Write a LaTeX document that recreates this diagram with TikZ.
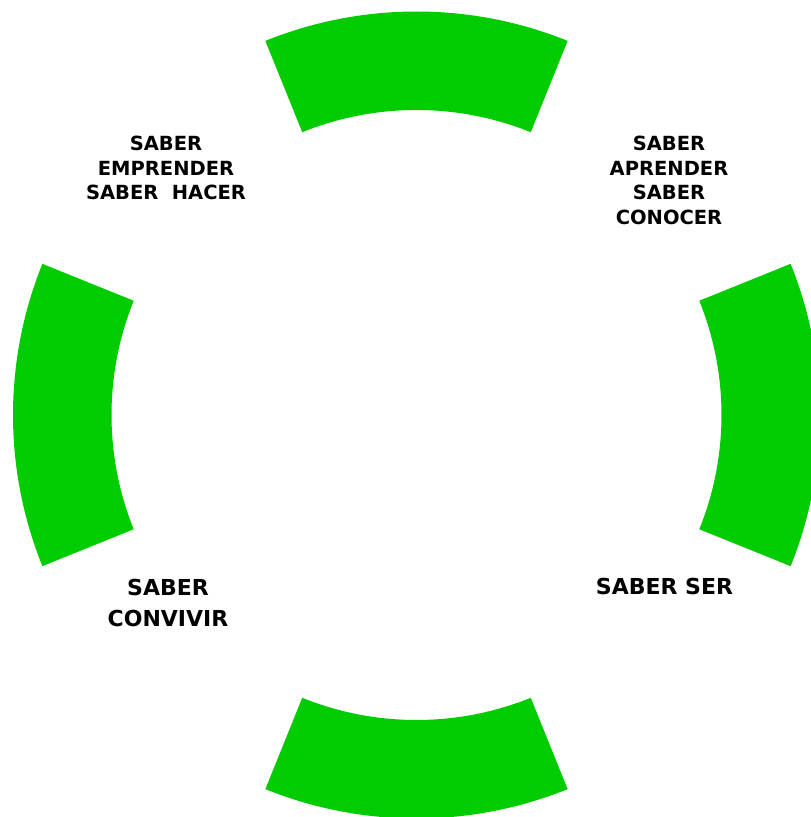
\documentclass[tikz,border=0pt]{standalone}
\usepackage{fontspec}
\setmainfont{DejaVu Sans}
\usetikzlibrary{calc}
\definecolor{ringgreen}{RGB}{0,204,0}
\begin{document}
\begin{tikzpicture}[x=1pt,y=1pt,
  seg/.style={fill=ringgreen,draw=none},
  lbltop/.style={align=center,anchor=base,inner sep=0pt,font=\fontsize{19.5}{24.7}\selectfont\bfseries},
  lblbot/.style={align=center,anchor=base,inner sep=0pt,font=\fontsize{22}{31}\selectfont\bfseries}]
\useasboundingbox (0,0) rectangle (811,817);
\clip (0,0) rectangle (811,817);
\coordinate (c) at (416.5,402);
\foreach \a in {0,90,180,270}{
  \fill[seg] ($(c)+(\a-22:403.5)$) arc[start angle=\a-22,end angle=\a+22,radius=403.5]
    -- ($(c)+(\a+22:305)$) arc[start angle=\a+22,end angle=\a-22,radius=305] -- cycle;
}
\node[lbltop] (tl) at (166,617) {SABER\\EMPRENDER\\SABER\ \ HACER};
\node[lbltop] (tr) at (669,592.3) {SABER\\APRENDER\\SABER\\CONOCER};
\node[lblbot] (bl) at (168,190) {SABER\\CONVIVIR};
\node[lblbot] (br) at (664.5,222) {SABER SER};
\end{tikzpicture}
\end{document}
